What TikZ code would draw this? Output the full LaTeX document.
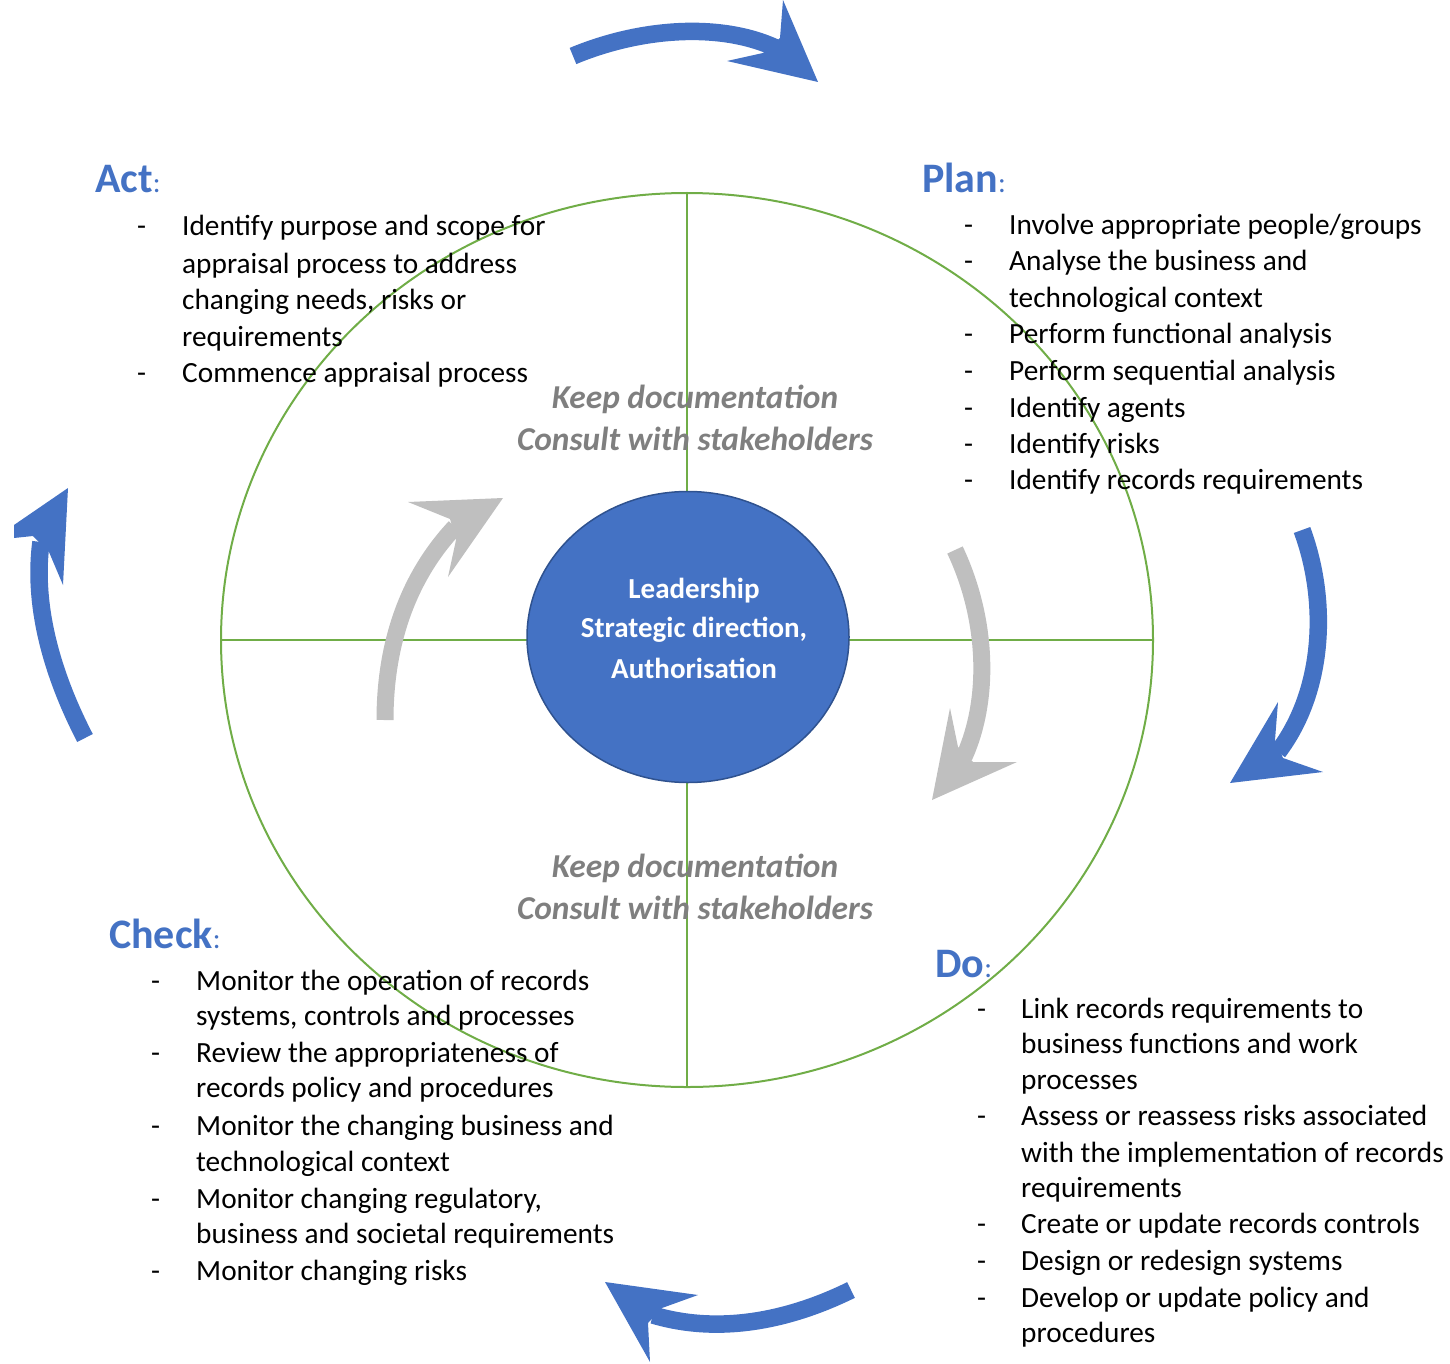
\documentclass[tikz,border=0pt]{standalone}
\usepackage{fontspec}
\setmainfont{Carlito}
\usetikzlibrary{shapes.geometric}
\definecolor{pblue}{HTML}{4472C4}
\definecolor{pdark}{HTML}{2F528F}
\definecolor{pgreen}{HTML}{70AD47}
\definecolor{parrow}{HTML}{BFBFBF}
\definecolor{pgraytxt}{HTML}{7F7F7F}
\newcommand\Ln[4]{\node[txt] (#1) at (#2,#3) {#4};}
\newcommand\Dl[3]{\node[txt] (#1) at (#2,#3) {-};}
\begin{document}
\begin{tikzpicture}[x=1pt,y=-1pt,
  txt/.style={anchor=base west,inner sep=0pt,text=black,font=\fontsize{29.3}{35}\selectfont},
  head/.style={anchor=base west,inner sep=0pt,text=pblue,font=\fontsize{42}{46}\selectfont\bfseries},
  ctr/.style={anchor=base,inner sep=0pt,text=white,font=\fontsize{29}{34}\selectfont\bfseries},
  gtxt/.style={anchor=base,inner sep=0pt,text=pgraytxt,font=\fontsize{33.4}{38}\selectfont\bfseries\itshape},
  bluearrow/.style={draw=pblue,line width=17.5pt},
  bluehead/.style={fill=pblue},
  grayarrow/.style={draw=parrow,line width=17pt},
  grayhead/.style={fill=parrow},
  ring/.style={draw=pgreen,line width=2pt}]
\useasboundingbox (0,0) rectangle (1450,1364);

% green ring and cross
\draw[ring] (687,640) ellipse [x radius=466pt, y radius=447pt];
\coordinate (vt) at (687,193);
\coordinate (vb) at (687,1087);
\coordinate (hl) at (221,640);
\coordinate (hr) at (1153,640);
\draw[ring] (vt) -- (vb);
\draw[ring] (hl) -- (hr);

% centre
\node[ellipse,fill=pblue,draw=pdark,line width=1.5pt,minimum width=322pt,minimum height=291pt,inner sep=0pt] (lead) at (688,637) {};
\node[ctr] (c1) at (694,598) {Leadership};
\node[ctr] (c2) at (694,637) {Strategic direction,};
\node[ctr] (c3) at (694,678) {Authorisation};

% gray texts
\node[gtxt] (g1) at (695,408) {Keep documentation};
\node[gtxt] (g2) at (695,450) {Consult with stakeholders};
\node[gtxt] (g3) at (695,877) {Keep documentation};
\node[gtxt] (g4) at (695,919) {Consult with stakeholders};

% blue outer arrows
\draw[bluearrow] (573,56) .. controls (640,28) and (720,22) .. (776,48);
\fill[bluehead] (818,82) -- (783,0) -- (780,38) -- (763,53) -- (727,61) -- cycle;

\draw[bluearrow] (851,1290) .. controls (790,1320) and (720,1335) .. (653,1315);
\fill[bluehead] (605,1282) -- (698,1295) -- (662,1308) -- (648,1323) -- (650,1362) -- cycle;

\draw[bluearrow] (85,738) .. controls (55,680) and (32,610) .. (41,542);
\fill[bluehead] (68,488) -- (14,525) -- (14,538) -- (33,536) -- (49,552) -- (63,585) -- cycle;

\draw[bluearrow] (1302,530) .. controls (1328,600) and (1325,690) .. (1278,752);
\fill[bluehead] (1230,783) -- (1278,702) -- (1275,740) -- (1283,758) -- (1323,772) -- cycle;

% gray inner arrows
\draw[grayarrow] (385,720) .. controls (385,640) and (410,575) .. (455,527);
\fill[grayhead] (503,498) -- (408,502) -- (450,519) -- (456,540) -- (448,577) -- cycle;

\draw[grayarrow] (955,550) .. controls (988,620) and (990,700) .. (964,757);
\fill[grayhead] (932,800) -- (950,708) -- (958,747) -- (973,762) -- (1017,762) -- cycle;

% headings
\node[head] (act) at (95,193) {Act{\mdseries\fontsize{29}{30}\selectfont:}};
\node[head] (plan) at (922,193) {Plan{\mdseries\fontsize{29}{30}\selectfont:}};
\node[head] (check) at (109,948) {Check{\mdseries\fontsize{29}{30}\selectfont:}};
\node[head] (do) at (935,977) {Do{\mdseries\fontsize{29}{30}\selectfont:}};

% Act list
\Dl{ad1}{137}{236}
\Ln{a1}{182}{236}{Identify purpose and scope for}
\Ln{a2}{182}{273}{appraisal process to address}
\Ln{a3}{182}{309}{changing needs, risks or}
\Ln{a4}{182}{346}{requirements}
\Dl{ad2}{137}{382}
\Ln{a5}{182}{382}{Commence appraisal process}

% Plan list
\Dl{pd1}{964}{235}
\Ln{p1}{1009}{235}{Involve appropriate people/groups}
\Dl{pd2}{964}{271}
\Ln{p2}{1009}{271}{Analyse the business and}
\Ln{p3}{1009}{307}{technological context}
\Dl{pd3}{964}{343}
\Ln{p4}{1009}{343}{Perform functional analysis}
\Dl{pd4}{964}{380}
\Ln{p5}{1009}{380}{Perform sequential analysis}
\Dl{pd5}{964}{417}
\Ln{p6}{1009}{417}{Identify agents}
\Dl{pd6}{964}{453}
\Ln{p7}{1009}{453}{Identify risks}
\Dl{pd7}{964}{489}
\Ln{p8}{1009}{489}{Identify records requirements}

% Check list
\Dl{kd1}{151}{990}
\Ln{k1}{196}{990}{Monitor the operation of records}
\Ln{k2}{196}{1025}{systems, controls and processes}
\Dl{kd2}{151}{1062}
\Ln{k3}{196}{1062}{Review the appropriateness of}
\Ln{k4}{196}{1097}{records policy and procedures}
\Dl{kd3}{151}{1135}
\Ln{k5}{196}{1135}{Monitor the changing business and}
\Ln{k6}{196}{1171}{technological context}
\Dl{kd4}{151}{1208}
\Ln{k7}{196}{1208}{Monitor changing regulatory,}
\Ln{k8}{196}{1243}{business and societal requirements}
\Dl{kd5}{151}{1280}
\Ln{k9}{196}{1280}{Monitor changing risks}

% Do list
\Dl{dd1}{977}{1018}
\Ln{d1}{1021}{1018}{Link records requirements to}
\Ln{d2}{1021}{1053}{business functions and work}
\Ln{d3}{1021}{1089}{processes}
\Dl{dd2}{977}{1125}
\Ln{d4}{1021}{1125}{Assess or reassess risks associated}
\Ln{d5}{1021}{1162}{with the implementation of records}
\Ln{d6}{1021}{1197}{requirements}
\Dl{dd3}{977}{1233}
\Ln{d7}{1021}{1233}{Create or update records controls}
\Dl{dd4}{977}{1270}
\Ln{d8}{1021}{1270}{Design or redesign systems}
\Dl{dd5}{977}{1307}
\Ln{d9}{1021}{1307}{Develop or update policy and}
\Ln{d10}{1021}{1342}{procedures}
\end{tikzpicture}
\end{document}
